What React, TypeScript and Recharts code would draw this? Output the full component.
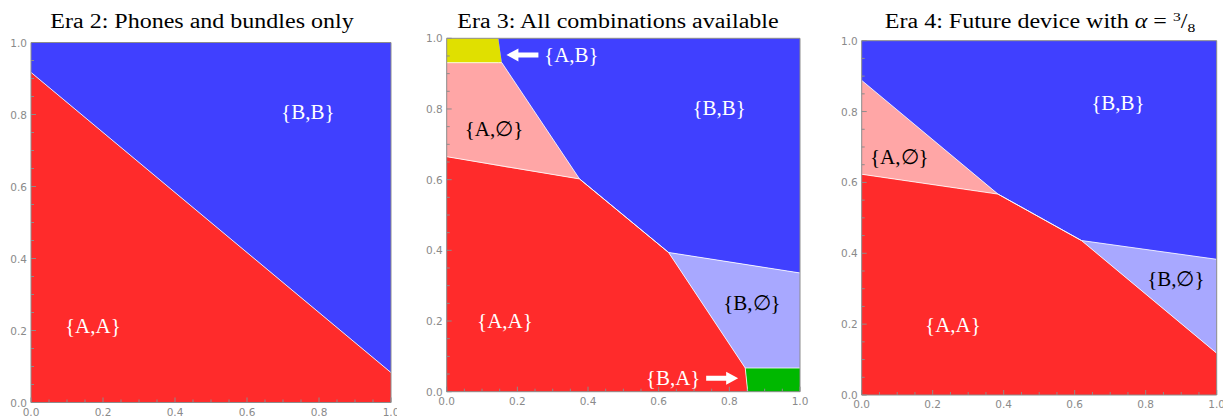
import { ComposedChart, Area, Line, XAxis, YAxis, ReferenceDot } from "recharts";

const RED = "#ff2b2b";
const BLUE = "#4040ff";
const PINK = "#ffa6a6";
const LIGHTBLUE = "#a8a8ff";
const YELLOW = "#e0e000";
const GREEN = "#00b800";
const FRAME = "#8c8c8c";
const TICK_TEXT = "#8a8a8a";

const ticks = [0, 0.05, 0.1, 0.15, 0.2, 0.25, 0.3, 0.35, 0.4, 0.45, 0.5, 0.55, 0.6, 0.65, 0.7, 0.75, 0.8, 0.85, 0.9, 0.95, 1];

// Era 2 regions (x, [lower, upper])
const era2Red = [{ x: 0, r: [0, 0.917] }, { x: 1, r: [0, 0.083] }];
const era2Blue = [{ x: 0, r: [0.917, 1] }, { x: 1, r: [0.083, 1] }];

// Era 3 regions
const era3Red = [
  { x: 0, r: [0, 0.665] },
  { x: 0.376, r: [0, 0.602] },
  { x: 0.628, r: [0, 0.394] },
  { x: 0.845, r: [0, 0.067] },
  { x: 0.852, r: [0, 0] },
];
const era3Pink = [
  { x: 0, r: [0.665, 0.931] },
  { x: 0.156, r: [0.637, 0.931] },
  { x: 0.376, r: [0.602, 0.602] },
];
const era3Yellow = [
  { x: 0, r: [0.931, 1] },
  { x: 0.146, r: [0.931, 1] },
  { x: 0.156, r: [0.931, 0.931] },
];
const era3Blue = [
  { x: 0.146, r: [1, 1] },
  { x: 0.156, r: [0.931, 1] },
  { x: 0.376, r: [0.602, 1] },
  { x: 0.628, r: [0.394, 1] },
  { x: 1, r: [0.336, 1] },
];
const era3LightBlue = [
  { x: 0.628, r: [0.394, 0.394] },
  { x: 0.845, r: [0.067, 0.36] },
  { x: 1, r: [0.067, 0.336] },
];
const era3Green = [
  { x: 0.845, r: [0.067, 0.067] },
  { x: 0.852, r: [0, 0.067] },
  { x: 1, r: [0, 0.067] },
];

// Era 4 regions
const era4Red = [
  { x: 0, r: [0, 0.623] },
  { x: 0.384, r: [0, 0.567] },
  { x: 0.619, r: [0, 0.436] },
  { x: 1, r: [0, 0.118] },
];
const era4Pink = [
  { x: 0, r: [0.623, 0.888] },
  { x: 0.384, r: [0.567, 0.567] },
];
const era4LightBlue = [
  { x: 0.619, r: [0.436, 0.436] },
  { x: 1, r: [0.118, 0.383] },
];
const era4Blue = [
  { x: 0, r: [0.888, 1] },
  { x: 0.384, r: [0.567, 1] },
  { x: 0.619, r: [0.436, 1] },
  { x: 1, r: [0.383, 1] },
];

type Pt = { x: number; r: number[] };
type Tag = { x: number; y: number; text: string; color: string; arrow?: "left" | "right" };

const era2Tags: Tag[] = [
  { x: 0.769, y: 0.807, text: "{B,B}", color: "#fff" },
  { x: 0.172, y: 0.212, text: "{A,A}", color: "#fff" },
];
const era3Tags: Tag[] = [
  { x: 0.353, y: 0.953, text: "{A,B}", color: "#fff", arrow: "left" },
  { x: 0.134, y: 0.742, text: "{A,\u2205}", color: "#000" },
  { x: 0.771, y: 0.803, text: "{B,B}", color: "#fff" },
  { x: 0.165, y: 0.201, text: "{A,A}", color: "#fff" },
  { x: 0.864, y: 0.252, text: "{B,\u2205}", color: "#000" },
  { x: 0.641, y: 0.038, text: "{B,A}", color: "#fff", arrow: "right" },
];
const era4Tags: Tag[] = [
  { x: 0.722, y: 0.824, text: "{B,B}", color: "#fff" },
  { x: 0.106, y: 0.673, text: "{A,\u2205}", color: "#000" },
  { x: 0.885, y: 0.326, text: "{B,\u2205}", color: "#000" },
  { x: 0.257, y: 0.197, text: "{A,A}", color: "#fff" },
];

const isMajor = (v: number) => Math.abs(v * 5 - Math.round(v * 5)) < 1e-6;

const tickText = (x: number, y: number, anchor: string, v: number) => (
  <text
    x={x}
    y={y}
    textAnchor={anchor}
    dominantBaseline="central"
    fontSize={10.5}
    fontFamily="DejaVu Sans"
    fill={TICK_TEXT}
  >
    {v.toFixed(1)}
  </text>
);

function BottomTick(p: any) {
  const m = isMajor(p.payload.value);
  return (
    <g>
      <line x1={p.x} y1={p.y} x2={p.x} y2={p.y - (m ? 5 : 3)} stroke={FRAME} />
      {m && tickText(p.x, p.y + 9, "middle", p.payload.value)}
    </g>
  );
}
function TopTick(p: any) {
  const m = isMajor(p.payload.value);
  return <line x1={p.x} y1={p.y} x2={p.x} y2={p.y + (m ? 5 : 3)} stroke={FRAME} />;
}
function LeftTick(p: any) {
  const m = isMajor(p.payload.value);
  return (
    <g>
      <line x1={p.x} y1={p.y} x2={p.x + (m ? 5 : 3)} y2={p.y} stroke={FRAME} />
      {m && tickText(p.x - 4, p.y, "end", p.payload.value)}
    </g>
  );
}
function RightTick(p: any) {
  const m = isMajor(p.payload.value);
  return <line x1={p.x} y1={p.y} x2={p.x - (m ? 5 : 3)} y2={p.y} stroke={FRAME} />;
}

function TagMark({ cx, cy, tag }: { cx: number; cy: number; tag: Tag }) {
  let arrow = null;
  if (tag.arrow) {
    const s = tag.arrow === "left" ? -1 : 1;
    const tip = cx + s * 65;
    const tail = cx + s * 33;
    const neck = tip - s * 12;
    const pts = [
      [tip, cy],
      [neck, cy - 6.5],
      [neck, cy - 2.5],
      [tail, cy - 2.5],
      [tail, cy + 2.5],
      [neck, cy + 2.5],
      [neck, cy + 6.5],
    ]
      .map((q) => q.join(","))
      .join(" ");
    arrow = <polygon points={pts} fill="#fff" />;
  }
  return (
    <g>
      <text
        x={cx}
        y={cy}
        textAnchor="middle"
        dominantBaseline="central"
        fontFamily="Liberation Serif"
        fontSize={21}
        fill={tag.color}
      >
        {tag.text}
      </text>
      {arrow}
    </g>
  );
}

type PanelProps = {
  left: number;
  width: number;
  box: { x0: number; y0: number; w: number; h: number };
  regions: { data: Pt[]; fill: string }[];
  borders: { data: Pt[]; side: 0 | 1 }[];
  tags: Tag[];
};

function Panel({ left, width, box, regions, borders, tags }: PanelProps) {
  const yAxisWidth = box.x0 - left;
  const rightMargin = left + width - (box.x0 + box.w) - 1;
  const bottomHeight = 417 - (box.y0 + box.h);
  return (
    <div style={{ position: "absolute", left, top: 0 }}>
      <ComposedChart
        width={width}
        height={417}
        margin={{ top: box.y0 - 1, right: rightMargin, bottom: 0, left: 0 }}
      >
        <XAxis
          xAxisId="b"
          type="number"
          dataKey="x"
          domain={[0, 1]}
          ticks={ticks}
          interval={0}
          height={bottomHeight}
          tickSize={0}
          tickMargin={0}
          tickLine={false}
          axisLine={{ stroke: FRAME }}
          tick={BottomTick}
        />
        <XAxis
          xAxisId="t"
          orientation="top"
          type="number"
          dataKey="x"
          domain={[0, 1]}
          ticks={ticks}
          interval={0}
          height={1}
          tickSize={0}
          tickMargin={0}
          tickLine={false}
          axisLine={{ stroke: FRAME }}
          tick={TopTick}
        />
        <YAxis
          yAxisId="l"
          type="number"
          domain={[0, 1]}
          ticks={ticks}
          interval={0}
          width={yAxisWidth}
          tickSize={0}
          tickMargin={0}
          tickLine={false}
          axisLine={{ stroke: FRAME }}
          tick={LeftTick}
        />
        <YAxis
          yAxisId="r"
          orientation="right"
          type="number"
          domain={[0, 1]}
          ticks={ticks}
          interval={0}
          width={1}
          tickSize={0}
          tickMargin={0}
          tickLine={false}
          axisLine={{ stroke: FRAME }}
          tick={RightTick}
        />
        {regions.map((g, i) => (
          <Area
            key={"a" + i}
            xAxisId="b"
            yAxisId="l"
            data={g.data}
            dataKey="r"
            type="linear"
            fill={g.fill}
            fillOpacity={1}
            stroke="none"
            dot={false}
            activeDot={false}
            isAnimationActive={false}
          />
        ))}
        {borders.map((b, i) => (
          <Line
            key={"l" + i}
            xAxisId="b"
            yAxisId="l"
            data={b.data}
            dataKey={(d: Pt) => d.r[b.side]}
            type="linear"
            stroke="#ffffff"
            strokeOpacity={0.8}
            strokeWidth={1}
            dot={false}
            activeDot={false}
            isAnimationActive={false}
          />
        ))}
        {tags.map((t, i) => (
          <ReferenceDot
            key={"t" + i}
            xAxisId="b"
            yAxisId="l"
            x={t.x}
            y={t.y}
            r={0}
            shape={(p: any) => <TagMark cx={p.cx} cy={p.cy} tag={t} />}
          />
        ))}
      </ComposedChart>
    </div>
  );
}

const titleStyle = (cx: number): React.CSSProperties => ({
  position: "absolute",
  left: cx - 250,
  top: 11,
  width: 500,
  textAlign: "center",
  fontFamily: "Liberation Serif",
  fontSize: 20,
  lineHeight: "20px",
  color: "#000",
  whiteSpace: "nowrap",
  transform: "scaleX(1.2)",
});

export default function App() {
  return (
    <div
      style={{
        position: "absolute",
        left: 0,
        top: 0,
        width: 1223,
        height: 417,
        background: "#fff",
        overflow: "hidden",
      }}
    >
      <Panel
        left={0}
        width={397}
        box={{ x0: 31, y0: 42.5, w: 360, h: 360 }}
        regions={[
          { data: era2Red, fill: RED },
          { data: era2Blue, fill: BLUE },
        ]}
        borders={[{ data: era2Red, side: 1 }]}
        tags={era2Tags}
      />
      <Panel
        left={415}
        width={395}
        box={{ x0: 446.7, y0: 38.3, w: 353.3, h: 353.4 }}
        regions={[
          { data: era3Red, fill: RED },
          { data: era3Pink, fill: PINK },
          { data: era3Yellow, fill: YELLOW },
          { data: era3Blue, fill: BLUE },
          { data: era3LightBlue, fill: LIGHTBLUE },
          { data: era3Green, fill: GREEN },
        ]}
        borders={[
          { data: era3Red, side: 1 },
          { data: era3Blue.slice(1), side: 0 },
          { data: era3Yellow, side: 0 },
          { data: era3Green, side: 1 },
        ]}
        tags={era3Tags}
      />
      <Panel
        left={825}
        width={398}
        box={{ x0: 861.7, y0: 40.7, w: 355, h: 354.3 }}
        regions={[
          { data: era4Red, fill: RED },
          { data: era4Pink, fill: PINK },
          { data: era4LightBlue, fill: LIGHTBLUE },
          { data: era4Blue, fill: BLUE },
        ]}
        borders={[
          { data: era4Red, side: 1 },
          { data: era4Blue, side: 0 },
        ]}
        tags={era4Tags}
      />
      <div style={titleStyle(202)}>Era 2: Phones and bundles only</div>
      <div style={titleStyle(617.5)}>Era 3: All combinations available</div>
      <div style={titleStyle(1040)}>
        Era 4: Future device with <i>α</i> ={" "}
        <span style={{ fontSize: 13, position: "relative", top: -7 }}>3</span>/
        <span style={{ fontSize: 13, position: "relative", top: 4 }}>8</span>
      </div>
    </div>
  );
}
